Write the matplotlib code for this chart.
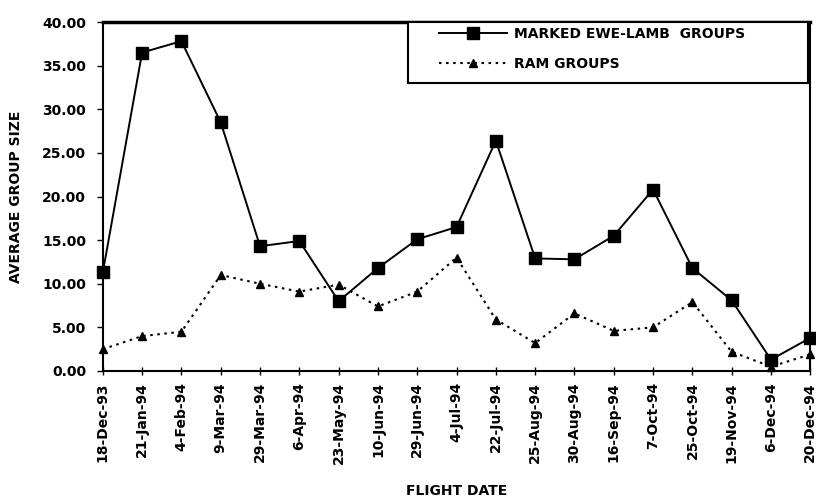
import matplotlib

matplotlib.use("Agg")
import matplotlib.pyplot as plt
from matplotlib.patches import Rectangle

dates = [
    "18-Dec-93", "21-Jan-94", "4-Feb-94", "9-Mar-94", "29-Mar-94", "6-Apr-94",
    "23-May-94", "10-Jun-94", "29-Jun-94", "4-Jul-94", "22-Jul-94", "25-Aug-94",
    "30-Aug-94", "16-Sep-94", "7-Oct-94", "25-Oct-94", "19-Nov-94", "6-Dec-94",
    "20-Dec-94",
]
ewe_lamb = [11.3, 36.5, 37.8, 28.5, 14.3, 14.9, 8.0, 11.8, 15.1, 16.5, 26.4,
            12.9, 12.8, 15.5, 20.8, 11.8, 8.1, 1.3, 3.8]
ram = [2.5, 4.0, 4.5, 11.0, 10.0, 9.1, 9.9, 7.4, 9.1, 13.0, 5.9, 3.2, 6.6,
       4.6, 5.0, 7.9, 2.2, 0.5, 1.9]

plt.rcParams["font.family"] = ["DejaVu Sans"]
plt.rcParams["font.weight"] = "bold"

fig = plt.figure(figsize=(8.16, 5), dpi=100)
ax = fig.add_axes([0.126, 0.258, 0.867, 0.698])

x = range(len(dates))
ax.plot(x, ewe_lamb, color="black", lw=1.4, marker="s", ms=9,
        label="MARKED EWE-LAMB  GROUPS", clip_on=False, zorder=3)
ax.plot(x, ram, color="black", lw=1.5, ls=(0, (1.2, 2.2)), marker="^", ms=6,
        label="RAM GROUPS", clip_on=False, zorder=3)

ax.set_xlim(0, len(dates) - 1)
ax.set_ylim(0, 40)
ax.set_xticks(list(x))
ax.set_xticklabels(dates, rotation=90, fontsize=10, fontweight="bold")
ax.set_yticks(range(0, 41, 5))
ax.set_yticklabels([f"{v:.2f}" for v in range(0, 41, 5)], fontsize=10, fontweight="bold")
ax.tick_params(axis="x", direction="inout", length=6, width=1, pad=5)
ax.tick_params(axis="y", direction="out", length=4, width=1, pad=8)
for s in ax.spines.values():
    s.set_linewidth(1.5)
ax.spines["top"].set_linewidth(2.5)

ax.set_xlabel("FLIGHT DATE", fontsize=10, fontweight="bold", labelpad=14)
ax.set_ylabel("AVERAGE GROUP SIZE", fontsize=10, fontweight="bold", labelpad=14)

# legend frame drawn separately so the padding can match the original box
ax.add_patch(Rectangle((0.431, 0.825), 0.566, 0.175, transform=ax.transAxes,
                       facecolor="white", edgecolor="black", lw=1.5, zorder=4,
                       clip_on=False))
leg = ax.legend(loc="upper left", bbox_to_anchor=(0.475, 0.985),
                prop={"weight": "bold", "size": 10}, frameon=False,
                handlelength=4.9, handletextpad=0.5, borderpad=0,
                labelspacing=1.1, borderaxespad=0)
leg.set_zorder(5)

fig.savefig("out.png", dpi=100)
